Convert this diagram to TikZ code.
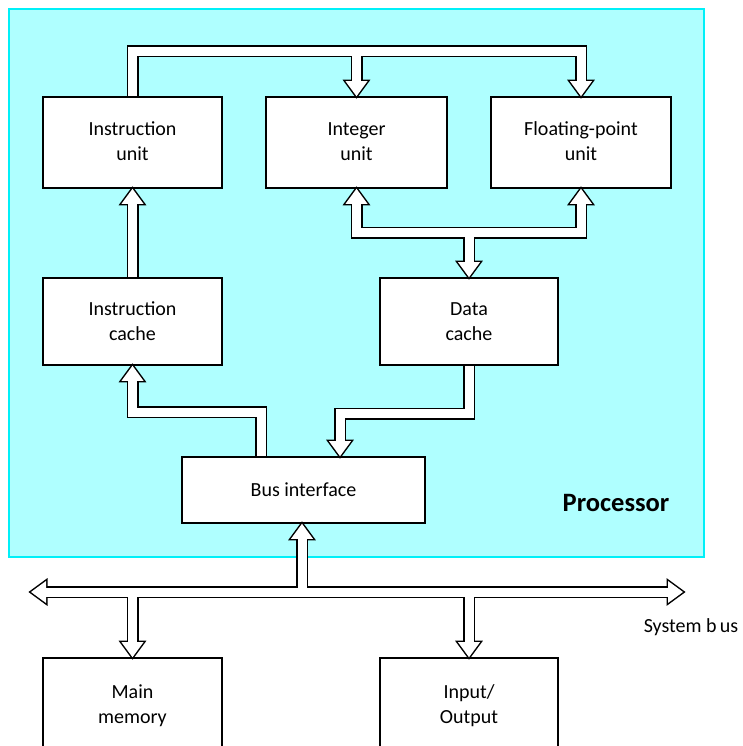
\documentclass[tikz,border=0pt]{standalone}
\usepackage{fontspec}
\setmainfont{Carlito}
\definecolor{procfill}{HTML}{AFFFFF}
\definecolor{procline}{HTML}{00F0F8}
\tikzset{x=1pt,y=-1pt,
  box/.style={draw,line width=1.6pt,fill=white,align=center,font=\fontsize{20}{25}\selectfont},
  head/.pic={\path[pic actions] (0,0) -- (-11,15) -- (11,15) -- cycle;}}
\newcommand\buslines{
  \draw[sh,shorten >=11pt] (iu.north) -- ++(0,-45) -| (fpu.north);
  \draw[sh,shorten >=11pt] (intu.north) ++(0,-45) -- (intu.north);
  \pic[hd,rotate=180] at (intu.north) {head};
  \pic[hd,rotate=180] at (fpu.north) {head};
  \draw[sh,shorten >=11pt] (ic.north) -- (iu.south);
  \pic[hd] at (iu.south) {head};
  \draw[sh,shorten <=11pt,shorten >=11pt] (intu.south) -- ++(0,44) -| (fpu.south);
  \pic[hd] at (intu.south) {head};
  \pic[hd] at (fpu.south) {head};
  \draw[sh,shorten >=11pt] (dc.north) ++(0,-46) -- (dc.north);
  \pic[hd,rotate=180] at (dc.north) {head};
  \draw[sh,shorten >=11pt] ([xshift=-42.5pt]bi.north) -- ++(0,-44) -| (ic.south);
  \pic[hd] at (ic.south) {head};
  \draw[sh,shorten >=11pt] (dc.south) -- ++(0,48) -| ([xshift=36.5pt]bi.north);
  \pic[hd,rotate=180] at ([xshift=36.5pt]bi.north) {head};
  \draw[sh,shorten <=11pt,shorten >=11pt] (busl) -- (busr);
  \pic[hd,rotate=90] at (busl) {head};
  \pic[hd,rotate=-90] at (busr) {head};
  \draw[sh,shorten >=11pt] ([xshift=-1.5pt]bi.south |- busl) -- ([xshift=-1.5pt]bi.south);
  \pic[hd] at ([xshift=-1.5pt]bi.south) {head};
  \draw[sh,shorten >=11pt] (mem.north |- busl) -- (mem.north);
  \pic[hd,rotate=180] at (mem.north) {head};
  \draw[sh,shorten >=11pt] (io.north |- busl) -- (io.north);
  \pic[hd,rotate=180] at (io.north) {head};
}

\begin{document}
\begin{tikzpicture}
  \clip (0,0) rectangle (742,746);
  \node[draw=procline,fill=procfill,line width=2.2pt,minimum width=695pt,minimum height=548pt] (proc) at (356.5,283) {};
  \node[font=\fontsize{26.5}{30}\selectfont\bfseries] (plab) at (616,503) {Processor};

  \node[box,minimum width=179pt,minimum height=91pt,text depth=2pt] (iu) at (132.5,142.5) {Instruction\\unit};
  \node[box,minimum width=181pt,minimum height=91pt,text depth=2pt] (intu) at (356.5,142.5) {Integer\\unit};
  \node[box,minimum width=180pt,minimum height=91pt,text depth=2pt] (fpu) at (581,142.5) {Floating-point\\unit};
  \node[box,minimum width=179pt,minimum height=87pt] (ic) at (132.5,321.5) {Instruction\\cache};
  \node[box,minimum width=178pt,minimum height=87pt] (dc) at (469,321.5) {Data\\cache};
  \node[box,minimum width=243pt,minimum height=66pt] (bi) at (303.5,490) {Bus interface};
  \node[box,minimum width=179pt,minimum height=96pt] (mem) at (132.5,706) {Main\\memory};
  \node[box,minimum width=178pt,minimum height=96pt] (io) at (469,706) {Input/\\Output};

  \coordinate (busl) at (31,592);
  \coordinate (busr) at (683,592);
  \node[font=\fontsize{20}{24}\selectfont] (sbus) at (691,627) {System b\,us};

  \begin{scope}[sh/.style={line width=12pt},hd/.style={draw,fill,line width=3pt}]
    \buslines
  \end{scope}
  \begin{scope}[sh/.style={line width=9pt,white},hd/.style={fill=white}]
    \buslines
  \end{scope}
\end{tikzpicture}
\end{document}
